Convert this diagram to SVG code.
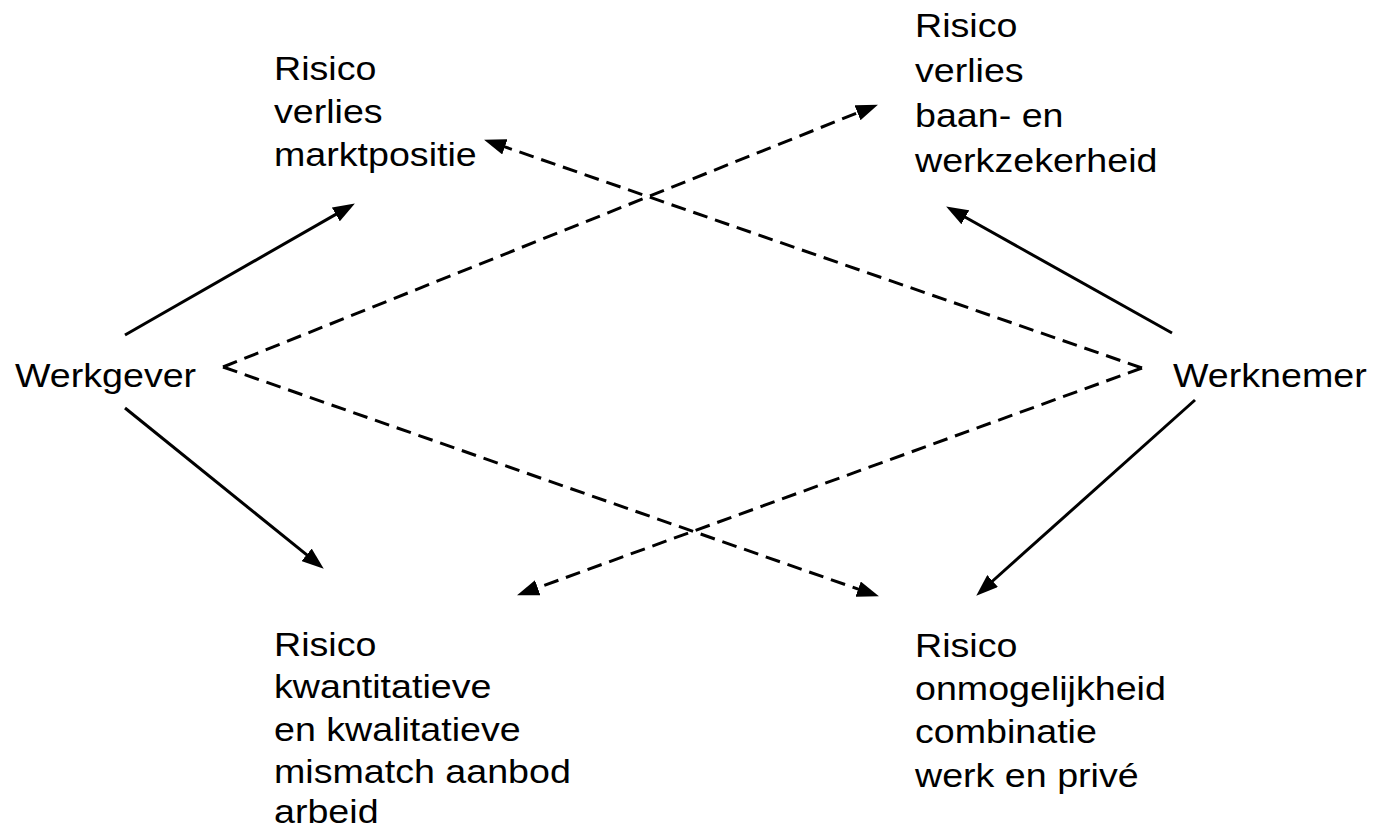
<svg xmlns="http://www.w3.org/2000/svg" width="1376" height="829" viewBox="0 0 1376 829">
<style>
  text { font-family: "Liberation Sans", Arial, sans-serif; font-size: 33px; fill: #000; }
  .solid { stroke: #000; stroke-width: 3; fill: none; marker-end: url(#arrow); }
  .dash { stroke: #000; stroke-width: 3; fill: none; stroke-dasharray: 15 8; marker-end: url(#arrow); }
</style>
<defs>
  <marker id="arrow" markerUnits="userSpaceOnUse" markerWidth="22" markerHeight="16" refX="3" refY="8" orient="auto">
    <path d="M0,0 L22,8 L0,16 z" fill="#000"/>
  </marker>
</defs>
<rect width="1376" height="829" fill="#fff"/>
<g id="connectors">
  <line class="solid" x1="125" y1="335" x2="338.4" y2="212.9"/>
  <line class="solid" x1="125" y1="408" x2="309.0" y2="556.7"/>
  <line class="solid" x1="1172" y1="333" x2="962.7" y2="215.8"/>
  <line class="solid" x1="1195" y1="400" x2="990.4" y2="583.0"/>
  <line class="dash" x1="223" y1="367" x2="860.3" y2="111.7"/>
  <line class="dash" x1="223" y1="367" x2="861.0" y2="590.1"/>
  <line class="dash" x1="1142" y1="368" x2="502.0" y2="145.9"/>
  <line class="dash" x1="1142" y1="368" x2="534.9" y2="588.8"/>
</g>
<g id="werkgever" transform="translate(15 0) scale(1.14 1)">
  <text x="0" y="387">Werkgever</text>
</g>
<g id="werknemer" transform="translate(1173 0) scale(1.14 1)">
  <text x="0" y="387">Werknemer</text>
</g>
<g id="risico-marktpositie" transform="translate(274 0) scale(1.14 1)">
  <text><tspan x="0" y="80">Risico</tspan><tspan x="0" y="123">verlies</tspan><tspan x="0" y="166">marktpositie</tspan></text>
</g>
<g id="risico-baan" transform="translate(915 0) scale(1.14 1)">
  <text><tspan x="0" y="37">Risico</tspan><tspan x="0" y="82">verlies</tspan><tspan x="0" y="127">baan- en</tspan><tspan x="0" y="172">werkzekerheid</tspan></text>
</g>
<g id="risico-mismatch" transform="translate(274 0) scale(1.14 1)">
  <text><tspan x="0" y="656">Risico</tspan><tspan x="0" y="698">kwantitatieve</tspan><tspan x="0" y="741">en kwalitatieve</tspan><tspan x="0" y="783">mismatch aanbod</tspan><tspan x="0" y="823">arbeid</tspan></text>
</g>
<g id="risico-combinatie" transform="translate(915 0) scale(1.14 1)">
  <text><tspan x="0" y="657">Risico</tspan><tspan x="0" y="700">onmogelijkheid</tspan><tspan x="0" y="743">combinatie</tspan><tspan x="0" y="787">werk en privé</tspan></text>
</g>
</svg>
